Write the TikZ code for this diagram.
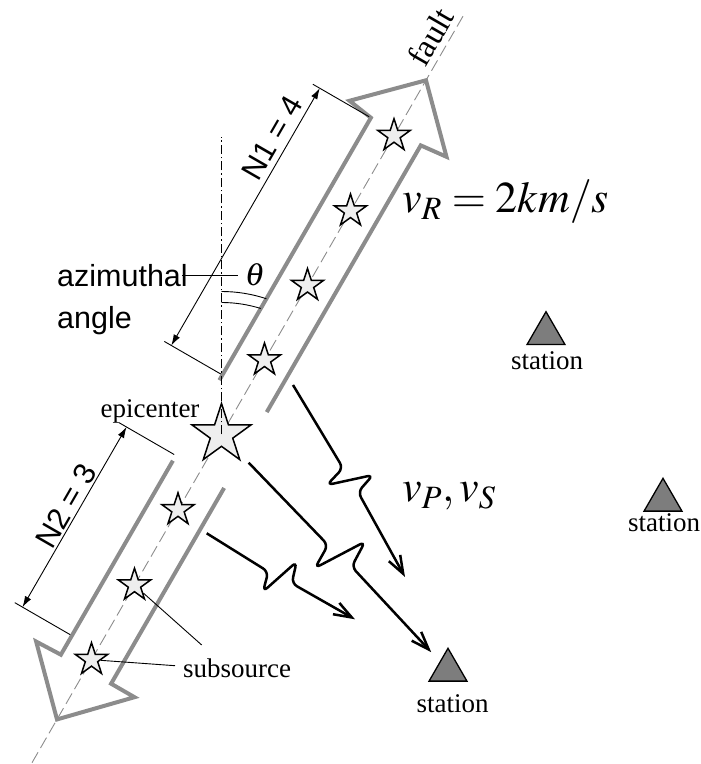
\documentclass[tikz,border=0pt]{standalone}
\usepackage{mathptmx}
\usepackage{fontspec}
\setmainfont{Liberation Serif}
\setsansfont{Liberation Sans}
\usetikzlibrary{arrows.meta,shapes.geometric}
\definecolor{faultgray}{RGB}{140,140,140}
\definecolor{starfill}{RGB}{238,238,238}
\definecolor{stationfill}{RGB}{125,125,125}
\begin{document}
\begin{tikzpicture}[x=1pt,y=1pt,
  outline/.style={draw=faultgray, line width=4pt},
  faultline/.style={draw=faultgray, line width=0.9pt, dash pattern=on 12pt off 5pt},
  smallstar/.style={star, star points=5, star point ratio=2.618, minimum size=34pt, inner sep=0pt, draw=black, line width=1.5pt, fill=starfill},
  bigstar/.style={smallstar, minimum size=62pt},
  station/.style={regular polygon, regular polygon sides=3, minimum size=43.8pt, inner sep=0pt, draw=black, line width=1.3pt, fill=stationfill},
  thinline/.style={draw=black, line width=0.9pt},
  dimline/.style={thinline, {Latex[length=11pt,width=7pt]}-{Latex[length=11pt,width=7pt]}},
  dashdotline/.style={draw=black, line width=0.9pt, dash pattern=on 9pt off 3pt on 1.5pt off 3pt},
  wave/.style={draw=black, line width=2.5pt, rounded corners=6pt, -{Straight Barb[length=18pt,width=13pt]}},
  sanslabel/.style={font=\sffamily\fontsize{30.5}{36}\selectfont, inner sep=0pt},
  seriflabel/.style={font=\fontsize{27}{32}\selectfont, inner sep=0pt},
  mathlabel/.style={font=\fontsize{44}{50}\selectfont, inner sep=0pt}
]
\useasboundingbox (0,0) rectangle (701,764);

\begin{scope}[shift={(221.5,329.5)}, rotate=60]
  % fault line
  \coordinate (fA) at (-379,0);
  \coordinate (fB) at (487,0);
  \draw[faultline] (fA) -- (fB);
  % upper rupture arrow
  \draw[outline] (46,29) -- (349,29) -- (353,56) -- (409,0) -- (353,-56) -- (350,-28) -- (42,-28);
  % lower rupture arrow
  \draw[outline] (-47,29) -- (-271,29) -- (-272,57) -- (-329,0) -- (-271,-56) -- (-271,-29) -- (-45,-29);
  % subsources
  \node[smallstar] (u1) at (86,0) {};
  \node[smallstar] (u2) at (172,0) {};
  \node[smallstar] (u3) at (258,0) {};
  \node[smallstar] (u4) at (345,0) {};
  \node[smallstar] (l1) at (-87,0) {};
  \node[smallstar] (l2) at (-174,0) {};
  \node[smallstar] (l3) at (-260,0) {};
  \node[bigstar] (epi) at (0,0) {};
  % N1 dimension
  \draw[thinline] (52,31) -- (52,96);
  \draw[thinline] (349,31) -- (349,96);
  \coordinate (n1a) at (52,88);
  \coordinate (n1b) at (349,88);
  \draw[dimline] (n1a) -- (n1b);
  \node[sanslabel, rotate=60] (n1lab) at (282,104) {N1 = 4};
  % N2 dimension
  \draw[thinline] (-41,31) -- (-41,95);
  \draw[thinline] (-249,31) -- (-249,95);
  \coordinate (n2a) at (-41,86);
  \coordinate (n2b) at (-249,86);
  \draw[dimline] (n2a) -- (n2b);
  \node[sanslabel, rotate=60] (n2lab) at (-140,99) {N2 = 3};
  % fault label
  \node[font=\fontsize{33}{38}\selectfont, inner sep=0pt, rotate=60] (faultlab) at (449,18) {fault};
\end{scope}

% vertical reference and azimuthal angle
\coordinate (vtop) at (221.5,627);
\draw[dashdotline] (epi.center) -- (vtop);
\draw[thinline] (221.5,472.5) arc[start angle=90, end angle=71.7, radius=143];
\draw[thinline] (221.5,461.5) arc[start angle=90, end angle=72.7, radius=132];
\node[font=\fontsize{32}{36}\selectfont, inner sep=0pt] (theta) at (255,489) {$\theta$};
\node[sanslabel, anchor=base west] (az) at (57,477) {azimuthal};
\node[sanslabel, anchor=base west] (ang) at (57,435) {angle};
\coordinate (azl) at (182,489);
\coordinate (azr) at (238,489);
\draw[thinline] (azl) -- (azr);

% labels
\node[seriflabel] (epilab) at (150,353) {epicenter};
\node[seriflabel, anchor=base west] (sub) at (183,86) {subsource};
\coordinate (sub1) at (201.7,119);
\coordinate (sub2) at (175,98.3);
\draw[thinline] (l2) -- (sub1);
\draw[thinline] (l3) -- (sub2);

% stations
\node[station] (st1) at (546,430.4) {};
\node[station] (st2) at (663,263.8) {};
\node[station] (st3) at (448,93.8) {};
\node[seriflabel] (st1lab) at (547,403) {station};
\node[seriflabel] (st2lab) at (664,241) {station};
\node[seriflabel] (st3lab) at (452.5,60.5) {station};

% velocities
\node[mathlabel, anchor=base west] (vr) at (402,551) {$v_R = 2km/s$};
\node[mathlabel, anchor=base west] (vps) at (402,262.3) {$v_P, v_S$};

% seismic waves
\coordinate (a0) at (293,379);
\coordinate (a5) at (405,187);
\draw[wave] (a0) -- (343,296) -- (327,279) -- (373,289) -- (358,272) -- (a5);
\draw[wave, shorten <=15.5pt, shorten >=12.5pt] (epi) -- (328,219) -- (315,196) -- (365,222.3) -- (351.7,197.3) -- (st3);
\coordinate (c0) at (206.7,230.7);
\coordinate (c5) at (355,144.7);
\draw[wave] (c0) -- (268.3,192.3) -- (263,172.3) -- (296.7,202.3) -- (291.7,180.7) -- (c5);
\end{tikzpicture}
\end{document}
